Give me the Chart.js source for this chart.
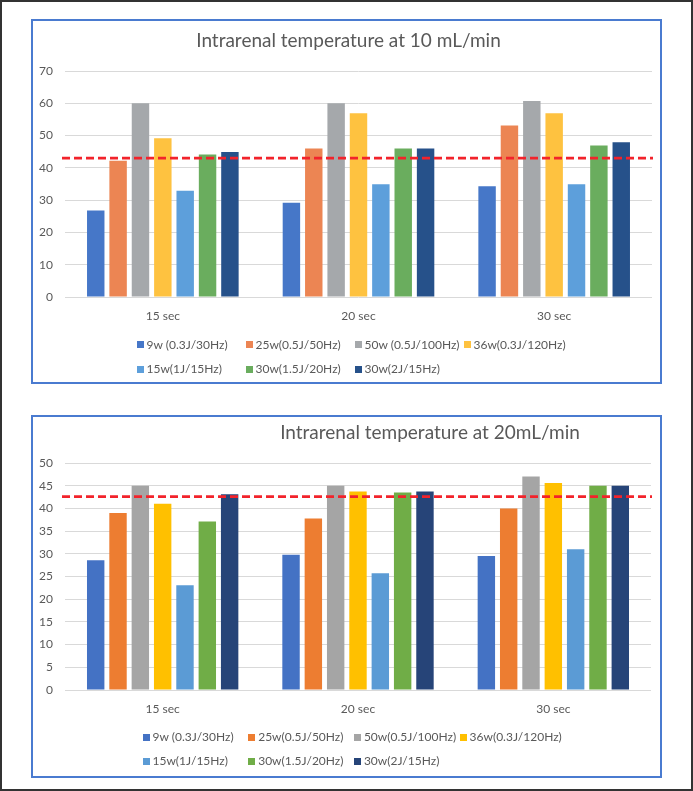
<!DOCTYPE html>
<html><head><meta charset="utf-8">
<script src="https://cdn.jsdelivr.net/npm/chart.js@4.4.1/dist/chart.umd.min.js"></script>
<style>
html,body{margin:0;padding:0;background:#fff;}
#frame{position:absolute;left:0;top:0;width:693px;height:791px;border:2px solid #333;box-sizing:border-box;}
.panel{position:absolute;left:31px;width:631px;border:2px solid #4a7bd0;box-sizing:border-box;background:#fff;}
.panel canvas{position:absolute;left:0;top:0;}
.title{position:absolute;font-family:Lato,'Liberation Sans',sans-serif;font-size:19px;color:#595959;line-height:24px;white-space:nowrap;}
.lg{position:absolute;font-family:Lato,'Liberation Sans',sans-serif;font-size:12px;color:#595959;line-height:14px;white-space:nowrap;display:flex;align-items:center;}
.lg i{display:inline-block;width:7px;height:7px;margin-right:3px;}
</style></head><body>
<div id="frame"></div>
<div class="panel" id="p1" style="top:19px;height:365px">
 <canvas id="c1" width="627" height="361"></canvas>
 <div class="title" id="t1" style="left:2px;width:627px;text-align:center;top:7px">Intrarenal temperature at 10 mL/min</div>
</div>
<div class="panel" id="p2" style="top:415px;height:363px">
 <canvas id="c2" width="627" height="359"></canvas>
 <div class="title" id="t2" style="left:397px;transform:translateX(-50%);top:3px">Intrarenal temperature at 20mL/min</div>
</div>
<script>
// ---- data ----
const categories = ['15 sec', '20 sec', '30 sec'];
const legend10 = ['9w (0.3J/30Hz)', '25w(0.5J/50Hz)', '50w (0.5J/100Hz)', '36w(0.3J/120Hz)', '15w(1J/15Hz)', '30w(1.5J/20Hz)', '30w(2J/15Hz)'];
const legend20 = ['9w (0.3J/30Hz)', '25w(0.5J/50Hz)', '50w(0.5J/100Hz)', '36w(0.3J/120Hz)', '15w(1J/15Hz)', '30w(1.5J/20Hz)', '30w(2J/15Hz)'];

// Intrarenal temperature at 10 mL/min
const w9_10  = [26.8, 29.2, 34.3];
const w25_10 = [42.2, 46.0, 53.1];
const w50_10 = [60.0, 60.0, 60.7];
const w36_10 = [49.2, 56.9, 56.9];
const w15_10 = [32.9, 34.9, 34.9];
const w30a_10 = [44.1, 46.0, 46.9];
const w30b_10 = [44.9, 46.0, 47.9];
const threshold10 = 43;
const yTicks10 = { min: 0, max: 70, step: 10 };

// Intrarenal temperature at 20 mL/min
const w9_20  = [28.6, 29.8, 29.5];
const w25_20 = [39.0, 37.8, 40.0];
const w50_20 = [45.0, 45.0, 47.0];
const w36_20 = [41.0, 43.7, 45.6];
const w15_20 = [23.1, 25.7, 31.0];
const w30a_20 = [37.1, 43.5, 45.0];
const w30b_20 = [43.1, 43.7, 45.0];
const threshold20 = 42.6;
const yTicks20 = { min: 0, max: 50, step: 5 };

// ---- styles ----
const colors10 = ['#4677c8', '#ec8553', '#a5a8ab', '#fec240', '#5d9fdb', '#6aad5e', '#26518a'];
const colors20 = ['#4472c4', '#ed7d31', '#a5a5a5', '#ffc000', '#5b9bd5', '#70ad47', '#264478'];
const FONT = 'Lato, "Liberation Sans", sans-serif';

const thresholdLine = {
  id: 'thresholdLine',
  afterDatasetsDraw(chart, args, opts) {
    const y = chart.scales.y.getPixelForValue(opts.value);
    const a = chart.chartArea, ctx = chart.ctx;
    ctx.save();
    ctx.strokeStyle = opts.color;
    ctx.lineWidth = opts.width;
    ctx.setLineDash(opts.dash);
    ctx.beginPath();
    ctx.moveTo(a.left - 3, y);
    ctx.lineTo(a.right + 1, y);
    ctx.stroke();
    ctx.restore();
  }
};

function makeChart(id, series, labels, colors, yt, threshold, pad) {
  return new Chart(document.getElementById(id), {
    type: 'bar',
    data: {
      labels: categories,
      datasets: series.map((d, i) => ({
        label: labels[i], data: d, backgroundColor: colors[i], borderWidth: 0,
        categoryPercentage: 0.8, barPercentage: 0.78
      }))
    },
    options: {
      responsive: false, animation: false, devicePixelRatio: 1,
      layout: { padding: pad },
      plugins: {
        legend: { display: false }, title: { display: false }, tooltip: { enabled: false },
        thresholdLine: { value: threshold, color: '#f2232b', width: 2.6, dash: [8, 4] }
      },
      scales: {
        x: {
          grid: { display: false, drawTicks: false }, border: { display: false },
          ticks: { font: { family: FONT, size: 12 }, color: '#595959', padding: 12 },
          afterFit(s) { s.height = 30; }
        },
        y: {
          min: yt.min, max: yt.max,
          ticks: { stepSize: yt.step, font: { family: FONT, size: 12 }, color: '#595959', padding: 12 },
          grid: { color: '#d9d9d9', lineWidth: 1, drawTicks: false },
          border: { display: false },
          afterFit(s) { s.width = 32; }
        }
      }
    },
    plugins: [thresholdLine]
  });
}

function buildLegend(panelId, chart, x0, colW, y0, rowH, perRow) {
  const p = document.getElementById(panelId);
  chart.data.datasets.forEach((ds, i) => {
    const el = document.createElement('div');
    el.className = 'lg';
    el.style.left = (x0 + (i % perRow) * colW) + 'px';
    el.style.top = (y0 + Math.floor(i / perRow) * rowH - 7) + 'px';
    const box = document.createElement('i');
    box.style.background = ds.backgroundColor;
    el.appendChild(box);
    el.appendChild(document.createTextNode(ds.label));
    p.appendChild(el);
  });
}

const chart1 = makeChart('c1', [w9_10, w25_10, w50_10, w36_10, w15_10, w30a_10, w30b_10], legend10, colors10, yTicks10, threshold10,
  { left: 0, right: 8, top: 50, bottom: 55 });
const chart2 = makeChart('c2', [w9_20, w25_20, w50_20, w36_20, w15_20, w30a_20, w30b_20], legend20, colors20, yTicks20, threshold20,
  { left: 0, right: 9, top: 46, bottom: 56 });

buildLegend('p1', chart1, 103.5, 109, 323.5, 24.5, 4);
buildLegend('p2', chart2, 109.5, 105.7, 320, 24, 4);
</script>
</body></html>
